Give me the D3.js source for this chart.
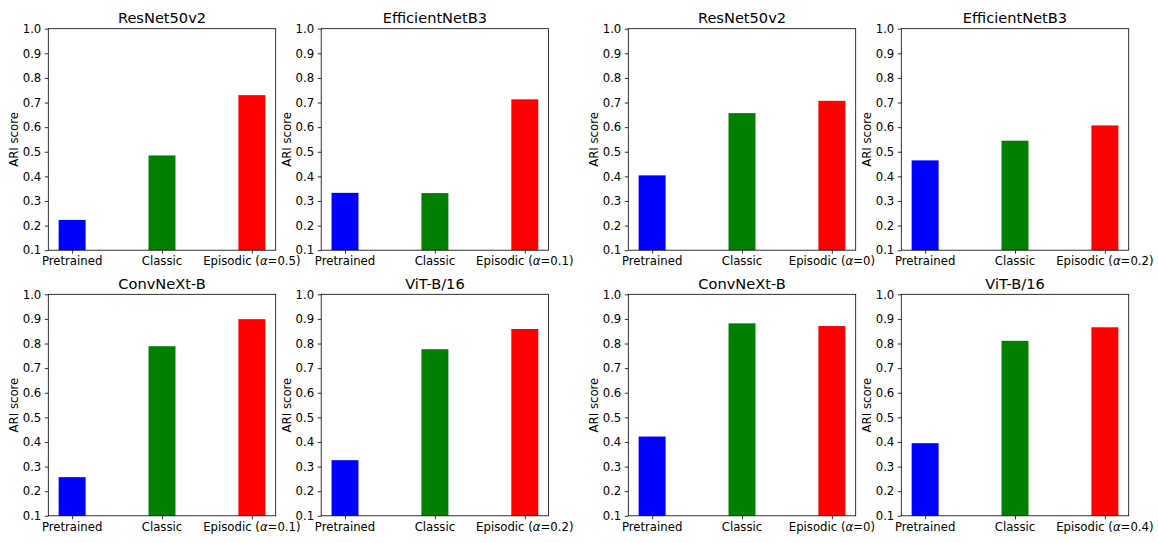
<!DOCTYPE html>
<html>
<head>
<meta charset="utf-8">
<script src="https://cdn.jsdelivr.net/npm/d3@7"></script>
<style>
  html, body { margin: 0; padding: 0; background: #fff; }
  svg { display: block; font-family: "DejaVu Sans", sans-serif; }
</style>
</head>
<body>
<svg id="chart" width="1158" height="543"></svg>
<script>
// ARI scores per backbone and training scheme
const titles = ["ResNet50v2", "EfficientNetB3", "ResNet50v2", "EfficientNetB3",
                "ConvNeXt-B", "ViT-B/16", "ConvNeXt-B", "ViT-B/16"];
const categories = ["Pretrained", "Classic", "Episodic"];
const alphas = ["0.5", "0.1", "0", "0.2", "0.1", "0.2", "0", "0.4"];
const pretrained = [0.223, 0.333, 0.404, 0.465, 0.257, 0.326, 0.422, 0.395];
const classic    = [0.485, 0.332, 0.657, 0.545, 0.789, 0.777, 0.882, 0.811];
const episodic   = [0.730, 0.713, 0.707, 0.607, 0.899, 0.859, 0.871, 0.866];
const yTicks = [0.1, 0.2, 0.3, 0.4, 0.5, 0.6, 0.7, 0.8, 0.9, 1.0];
const barColors = ["#0000ff", "#008000", "#ff0000"];

// grid geometry
const colLeft = [48.3, 321.2, 628.3, 901.3];
const rowTop = [28.7, 294.3];
const W = 227.4, H = 221.5;
const barWidth = 0.3;
const tickFont = 11.7, titleFont = 14.6;

const svg = d3.select("#chart");

titles.forEach((title, p) => {
  const left = colLeft[p % 4];
  const top = rowTop[Math.floor(p / 4)];
  const values = [pretrained[p], classic[p], episodic[p]];

  const x = d3.scaleLinear().domain([-0.265, 2.265]).range([left, left + W]);
  const y = d3.scaleLinear().domain([0.1, 1.0]).range([top + H, top]);

  const g = svg.append("g");

  // bars
  g.selectAll("rect.bar")
    .data(values)
    .join("rect")
    .attr("class", "bar")
    .attr("x", (d, i) => x(i - barWidth / 2))
    .attr("width", (d, i) => x(i + barWidth / 2) - x(i - barWidth / 2))
    .attr("y", d => y(d))
    .attr("height", d => y(0.1) - y(d))
    .attr("fill", (d, i) => barColors[i]);

  // y axis
  const yAxis = g.append("g")
    .attr("transform", `translate(${left},0)`)
    .call(d3.axisLeft(y).tickValues(yTicks).tickFormat(d3.format(".1f"))
      .tickSize(3.5).tickPadding(3.5));
  yAxis.select(".domain").remove();
  yAxis.selectAll("text").attr("font-size", tickFont).attr("fill", "#000")
    .attr("font-family", "DejaVu Sans");
  yAxis.selectAll("line").attr("stroke", "#000").attr("stroke-width", 0.8);

  // x axis
  const xAxis = g.append("g")
    .attr("transform", `translate(0,${top + H})`)
    .call(d3.axisBottom(x).tickValues([0, 1, 2]).tickFormat(() => "")
      .tickSize(3.5));
  xAxis.select(".domain").remove();
  xAxis.selectAll("line").attr("stroke", "#000").attr("stroke-width", 0.8);

  // category labels
  const lbl = g.selectAll("text.cat")
    .data(categories)
    .join("text")
    .attr("class", "cat")
    .attr("x", (d, i) => x(i))
    .attr("y", top + H + 15)
    .attr("text-anchor", "middle")
    .attr("font-size", tickFont)
    .attr("fill", "#000");
  lbl.each(function (d, i) {
    const t = d3.select(this);
    if (i < 2) {
      t.text(d);
    } else {
      t.append("tspan").text(d + " (");
      t.append("tspan").attr("font-style", "italic").text("\u03b1");
      t.append("tspan").text("=" + alphas[p] + ")");
    }
  });

  // frame
  g.append("rect")
    .attr("x", left).attr("y", top).attr("width", W).attr("height", H)
    .attr("fill", "none").attr("stroke", "#000").attr("stroke-width", 0.8);

  // title
  g.append("text")
    .attr("x", left + W / 2)
    .attr("y", top - 5.4)
    .attr("text-anchor", "middle")
    .attr("font-size", titleFont)
    .attr("fill", "#000")
    .text(title);

  // y label
  g.append("text")
    .attr("transform", `translate(${left - 34},${top + H / 2}) rotate(-90)`)
    .attr("text-anchor", "middle")
    .attr("dominant-baseline", "central")
    .attr("font-size", tickFont)
    .attr("fill", "#000")
    .text("ARI score");
});
</script>
</body>
</html>
